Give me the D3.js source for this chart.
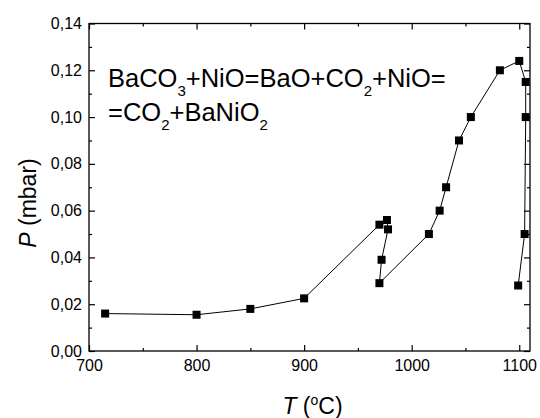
<!DOCTYPE html>
<html>
<head>
<meta charset="utf-8">
<script src="https://cdn.jsdelivr.net/npm/d3@7"></script>
<style>
  body { margin: 0; background: #fff; }
  text { font-family: Arial, "Liberation Sans", sans-serif; fill: #000; }
</style>
</head>
<body>
<div id="chart"></div>
<script>
// temperature (°C) and CO2 pressure (mbar), in measuring order
var tempC = [715, 800, 850, 900, 970, 977, 978, 972, 970, 1016, 1026, 1032, 1044, 1055, 1082, 1100, 1106, 1106, 1105, 1099];
var pressure = [0.016, 0.0155, 0.018, 0.0225, 0.054, 0.056, 0.052, 0.039, 0.029, 0.050, 0.060, 0.070, 0.090, 0.100, 0.120, 0.124, 0.115, 0.100, 0.050, 0.028];

var xTicks = [700, 800, 900, 1000, 1100];
var xMinor = [750, 850, 950, 1050];
var yTicks = [0, 0.02, 0.04, 0.06, 0.08, 0.10, 0.12, 0.14];
var yMinor = [0.01, 0.03, 0.05, 0.07, 0.09, 0.11, 0.13];

var data = tempC.map(function (t, i) { return { t: t, p: pressure[i] }; });

// set the dimensions and margins of the graph
var margin = {top: 23.5, right: 10, bottom: 67, left: 89},
    width = 540 - margin.left - margin.right,
    height = 418 - margin.top - margin.bottom;

var svg = d3.select("#chart")
  .append("svg")
    .attr("width", 540)
    .attr("height", 418)
  .append("g")
    .attr("transform", "translate(" + margin.left + "," + margin.top + ")");

var x = d3.scaleLinear().domain([700, 1110]).range([0, width]);
var y = d3.scaleLinear().domain([0, 0.14]).range([height, 0]);

var comma = function (d) { return d3.format(".2f")(d).replace(".", ","); };

// bottom axis, ticks pointing in
svg.append("g")
    .attr("transform", "translate(0," + height + ")")
    .call(d3.axisBottom(x).tickValues(xTicks).tickFormat(d3.format("d")).tickSizeInner(-6).tickSizeOuter(0).tickPadding(9))
    .call(function (g) { g.select(".domain").remove(); })
    .selectAll("text").style("font-size", "16px").attr("font-family", null);

svg.append("g")
    .attr("transform", "translate(0," + height + ")")
    .call(d3.axisBottom(x).tickValues(xMinor).tickSizeInner(-3).tickSizeOuter(0).tickFormat(""))
    .call(function (g) { g.select(".domain").remove(); });

// left axis
svg.append("g")
    .call(d3.axisLeft(y).tickValues(yTicks).tickFormat(comma).tickSizeInner(-6).tickSizeOuter(0).tickPadding(7))
    .call(function (g) { g.select(".domain").remove(); })
    .selectAll("text").style("font-size", "16px").attr("font-family", null);

svg.append("g")
    .call(d3.axisLeft(y).tickValues(yMinor).tickSizeInner(-3).tickSizeOuter(0).tickFormat(""))
    .call(function (g) { g.select(".domain").remove(); });

// top and right mirror ticks, no labels
svg.append("g")
    .call(d3.axisTop(x).tickValues(xTicks).tickSizeInner(-6).tickSizeOuter(0).tickFormat(""))
    .call(function (g) { g.select(".domain").remove(); });
svg.append("g")
    .call(d3.axisTop(x).tickValues(xMinor).tickSizeInner(-3).tickSizeOuter(0).tickFormat(""))
    .call(function (g) { g.select(".domain").remove(); });
svg.append("g")
    .attr("transform", "translate(" + width + ",0)")
    .call(d3.axisRight(y).tickValues(yTicks).tickSizeInner(-6).tickSizeOuter(0).tickFormat(""))
    .call(function (g) { g.select(".domain").remove(); });
svg.append("g")
    .attr("transform", "translate(" + width + ",0)")
    .call(d3.axisRight(y).tickValues(yMinor).tickSizeInner(-3).tickSizeOuter(0).tickFormat(""))
    .call(function (g) { g.select(".domain").remove(); });

svg.selectAll(".tick line").attr("stroke", "#000").attr("stroke-width", 1.2);

// frame
svg.append("rect")
    .attr("width", width)
    .attr("height", height)
    .attr("fill", "none")
    .attr("stroke", "#000")
    .attr("stroke-width", 1.3);

// line through the points
var line = d3.line()
    .x(function (d) { return x(d.t); })
    .y(function (d) { return y(d.p); });

svg.append("path")
    .datum(data)
    .attr("fill", "none")
    .attr("stroke", "#000")
    .attr("stroke-width", 1)
    .attr("d", line);

// square markers
var s = 8;
svg.append("g")
  .selectAll("rect")
    .data(data)
    .enter()
    .append("rect")
      .attr("x", function (d) { return x(d.t) - s / 2; })
      .attr("y", function (d) { return y(d.p) - s / 2; })
      .attr("width", s)
      .attr("height", s)
      .attr("fill", "#000");

// reaction text, subscripts as lowered tspans
function chem(yPos, parts) {
  var t = svg.append("text")
      .attr("x", 19)
      .attr("y", yPos)
      .style("font-size", "25.5px");
  parts.forEach(function (p, i) {
    var prev = i > 0 ? parts[i - 1][1] : 0;
    t.append("tspan")
        .attr("dy", p[1] === 1 ? 9 : (prev === 1 ? -9 : 0))
        .style("font-size", p[1] === 1 ? "15px" : null)
        .text(p[0]);
  });
}
chem(63, [["BaCO", 0], ["3", 1], ["+NiO=BaO+CO", 0], ["2", 1], ["+NiO=", 0]]);
chem(97.5, [["=CO", 0], ["2", 1], ["+BaNiO", 0], ["2", 1]]);

// axis titles
var xt = svg.append("text")
    .attr("x", width / 2 + 3)
    .attr("y", height + 63)
    .attr("text-anchor", "middle")
    .style("font-size", "23px");
xt.append("tspan").style("font-style", "italic").text("T");
xt.append("tspan").text(" (");
xt.append("tspan").attr("dy", -9).style("font-size", "14px").text("o");
xt.append("tspan").attr("dy", 9).text("C)");

var yt = svg.append("text")
    .attr("transform", "translate(" + (36 - margin.left) + "," + (203 - margin.top) + ") rotate(-90)")
    .attr("text-anchor", "middle")
    .style("font-size", "23px");
yt.append("tspan").style("font-style", "italic").text("P");
yt.append("tspan").text(" (mbar)");
</script>
</body>
</html>
